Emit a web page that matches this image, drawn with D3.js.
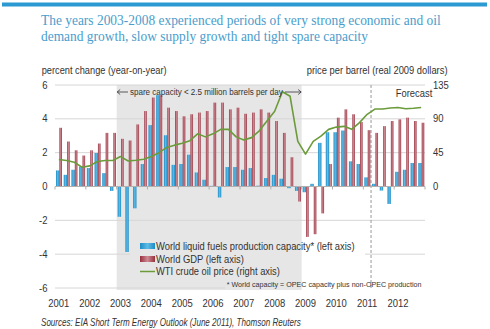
<!DOCTYPE html>
<html><head><meta charset="utf-8">
<script src="https://cdn.jsdelivr.net/npm/d3@7"></script>
<style>body{margin:0;background:#fff} svg{display:block}</style>
</head><body>
<svg id="c" width="490" height="329"></svg>
<script>
// ---------- data ----------
const years = [2001, 2002, 2003, 2004, 2005, 2006, 2007, 2008, 2009, 2010, 2011, 2012];
const quarters = ["Q1", "Q2", "Q3", "Q4"];
// World liquid fuels production capacity, % change y/y (left axis)
const capacity = [
  0.95, 0.69, 0.99, 1.19,
  1.09, 1.98, 0.79, -0.26,
  -1.79, -3.87, -1.29, 1.33,
  3.63, 5.40, 3.03, 1.28,
  1.33, 1.88, 0.83, 0.40,
  0.04, -0.65, 1.15, 1.15,
  0.99, 1.09, 0.05, 0.50,
  0.69, 0.46, -0.10, -0.26,
  -0.34, 0.16, 2.58, 3.21,
  3.21, 3.31, 1.49, 1.33,
  0.54, 0.16, -0.24, -1.03,
  0.87, 0.99, 1.39, 1.39
];
// World GDP, % change y/y (left axis)
const gdp = [
  3.47, 2.66, 2.14, 1.83,
  2.14, 2.54, 3.17, 3.17,
  2.82, 2.72, 3.67, 4.46,
  5.26, 5.40, 4.66, 4.46,
  4.15, 4.27, 4.37, 4.46,
  4.96, 4.96, 4.56, 4.66,
  4.30, 4.37, 4.56, 4.37,
  3.87, 3.17, 1.73, -0.89,
  -2.98, -2.82, -1.59, 1.33,
  4.07, 4.56, 4.27, 3.81,
  3.33, 3.17, 3.57, 3.87,
  3.97, 4.07, 3.87, 3.77
];
// WTI crude oil price, real 2009 $/bbl (right axis)
const wti = [
  36, 34.5, 32.3, 25.7,
  27.4, 33.2, 34.5, 34.5,
  39.8, 34, 35, 36.3,
  39.8, 45, 52, 55,
  57.5, 61, 70, 66,
  70, 76, 76, 66,
  62, 65, 74, 87,
  100, 126, 120, 60,
  43, 60, 67, 76,
  79, 80, 76, 85,
  96, 103, 103, 104.5,
  105, 103.5, 104, 105
];
const leftTicks = [-6, -4, -2, 0, 2, 4, 6];
const rightTicks = [0, 45, 90, 135];
const shadeYears = [2003, 2009];
const forecastStart = 2011.25;

const titleLines = [
  "The years 2003-2008 experienced periods of very strong economic and oil",
  "demand growth, slow supply growth and tight spare capacity"
];
const legendLabels = [
  "World liquid fuels production capacity* (left axis)",
  "World GDP (left axis)",
  "WTI crude oil price (right axis)"
];

// ---------- setup ----------
const SANS = "'Liberation Sans', Arial, Helvetica, sans-serif";
const SERIF = "'Liberation Serif', 'Times New Roman', serif";
const svg = d3.select("#c");
const defs = svg.append("defs");

function grad(id, edge, mid) {
  const g = defs.append("linearGradient").attr("id", id).attr("x1", "0%").attr("x2", "100%").attr("y1", "0%").attr("y2", "0%");
  g.append("stop").attr("offset", "0%").attr("stop-color", edge);
  g.append("stop").attr("offset", "50%").attr("stop-color", mid);
  g.append("stop").attr("offset", "100%").attr("stop-color", edge);
}
grad("gBlue", "#1d8cc6", "#5fbbe4");
grad("gRed", "#98303f", "#cc8a93");

function addText(parent, str, X, Y, o) {
  const t = parent.append("text").text(str)
    .attr("font-family", o.family || SANS)
    .attr("font-size", o.size)
    .attr("fill", o.fill || "#333")
    .attr("text-anchor", o.anchor || "start");
  if (o.style) t.attr("font-style", o.style);
  let s = o.sx || 1;
  if (o.width) s = o.width / t.node().getComputedTextLength();
  t.attr("transform", `translate(${X},${Y}) scale(${s},1)`);
  return s;
}

const data = d3.cross(years, quarters).map(([yr, q], i) => ({
  t: yr + quarters.indexOf(q) / 4, cap: capacity[i], gdp: gdp[i], wti: wti[i]
}));

const x = d3.scaleLinear().domain([2001, 2013]).range([55, 425]);
const y = d3.scaleLinear().domain([-6, 6]).range([288, 85]);
const y2 = d3.scaleLinear().domain([0, 135]).range([y(0), y(6)]);

// top bar
svg.append("rect").attr("x", 2).attr("y", 2.5).attr("width", 485).attr("height", 4).attr("fill", "#2b9ad2");

// title
const ts = addText(svg, titleLines[0], 41, 24.5, {family: SERIF, size: 14.5, fill: "#4a9dcb", width: 400});
addText(svg, titleLines[1], 41, 40.5, {family: SERIF, size: 14.5, fill: "#4a9dcb", sx: ts});

// shading
svg.append("rect").attr("x", x(shadeYears[0])).attr("y", y(6))
  .attr("width", x(shadeYears[1]) - x(shadeYears[0])).attr("height", y(-6) + 2 - y(6))
  .attr("fill", "#e6e6e6");

// gridlines
const grid = svg.append("g").attr("stroke", "#d6d6d6").attr("stroke-width", 1);
leftTicks.filter(v => v !== 0 && v > -4).forEach(v => {
  grid.append("line").attr("x1", x(2001)).attr("x2", x(2013)).attr("y1", y(v)).attr("y2", y(v));
});
grid.append("line").attr("x1", x(2001)).attr("x2", 130).attr("y1", y(-4)).attr("y2", y(-4));
grid.append("line").attr("x1", 365).attr("x2", x(2013)).attr("y1", y(-4)).attr("y2", y(-4));
grid.append("line").attr("x1", x(2001)).attr("x2", 225).attr("y1", y(-6)).attr("y2", y(-6));

// forecast dashed line
svg.append("line").attr("x1", x(forecastStart)).attr("x2", x(forecastStart))
  .attr("y1", y(6)).attr("y2", y(-6) + 2)
  .attr("stroke", "#999").attr("stroke-width", 1).attr("stroke-dasharray", "3,2");

// bars
svg.append("g").selectAll("rect").data(data).join("rect")
  .attr("x", d => x(d.t) + 1).attr("width", 3.4)
  .attr("y", d => y(Math.max(0, d.cap))).attr("height", d => Math.abs(y(d.cap) - y(0)))
  .attr("fill", "url(#gBlue)");
svg.append("g").selectAll("rect").data(data).join("rect")
  .attr("x", d => x(d.t) + 4.4).attr("width", 2.6)
  .attr("y", d => y(Math.max(0, d.gdp))).attr("height", d => Math.abs(y(d.gdp) - y(0)))
  .attr("fill", "url(#gRed)");

// zero axis + year ticks
svg.append("line").attr("x1", x(2001)).attr("x2", x(2013)).attr("y1", y(0)).attr("y2", y(0))
  .attr("stroke", "#b0b0b0").attr("stroke-width", 1);
svg.append("g").selectAll("line").data(years.concat([2013])).join("line")
  .attr("x1", d => x(d)).attr("x2", d => x(d)).attr("y1", y(0)).attr("y2", y(0) + 3)
  .attr("stroke", "#b0b0b0");

// WTI line
svg.append("path").datum(data)
  .attr("d", d3.line().x(d => x(d.t + 0.125)).y(d => y2(d.wti)))
  .attr("fill", "none").attr("stroke", "#6b9b3a").attr("stroke-width", 1.6).attr("stroke-linejoin", "round");

// tick labels
leftTicks.forEach(v => addText(svg, String(v), 47.5, y(v) + 3.6, {size: 10.5, anchor: "end", sx: 0.9}));
rightTicks.forEach(v => addText(svg, String(v), 433, y2(v) + 3.6, {size: 10.5, sx: 0.9}));
years.forEach(yr => addText(svg, String(yr), x(yr + 0.125), 306.5, {size: 10.5, anchor: "middle", sx: 0.9}));

// axis titles
addText(svg, "percent change (year-on-year)", 41.7, 74, {size: 10, width: 125});
addText(svg, "price per barrel (real 2009 dollars)", 306.7, 74, {size: 10, width: 141});
addText(svg, "Forecast", 395.7, 96.5, {size: 10.5, width: 36.6});

// spare capacity annotation
addText(svg, "spare capacity < 2.5 million barrels per day", 130, 94.5, {size: 9, width: 153});
const ann = svg.append("g").attr("stroke", "#333").attr("stroke-width", 0.8).attr("fill", "none");
const ay = 92;
ann.append("line").attr("x1", x(shadeYears[0]) + 0.5).attr("x2", 128).attr("y1", ay).attr("y2", ay);
ann.append("path").attr("d", `M${x(shadeYears[0]) + 3.5},${ay - 2.5} L${x(shadeYears[0]) + 0.5},${ay} L${x(shadeYears[0]) + 3.5},${ay + 2.5}`);
ann.append("line").attr("x1", 285).attr("x2", x(shadeYears[1]) - 0.5).attr("y1", ay).attr("y2", ay);
ann.append("path").attr("d", `M${x(shadeYears[1]) - 3.5},${ay - 2.5} L${x(shadeYears[1]) - 0.5},${ay} L${x(shadeYears[1]) - 3.5},${ay + 2.5}`);

// legend
const lg = svg.append("g");
const lb = [249.5, 262.5, 275];
lg.append("rect").attr("x", 140).attr("y", lb[0] - 6.5).attr("width", 15).attr("height", 6).attr("fill", "url(#gBlue)");
lg.append("rect").attr("x", 140).attr("y", lb[1] - 6.5).attr("width", 15).attr("height", 6).attr("fill", "url(#gRed)");
lg.append("line").attr("x1", 140).attr("x2", 155).attr("y1", lb[2] - 3.5).attr("y2", lb[2] - 3.5).attr("stroke", "#6b9b3a").attr("stroke-width", 1.5);
const lw = [199, 88, 124];
legendLabels.forEach((s, i) => addText(lg, s, 156, lb[i], {size: 10.5, width: lw[i]}));

// footnote & sources
addText(svg, "* World capacity = OPEC capacity plus non-OPEC production", 226.7, 287, {size: 7.5, width: 195});
addText(svg, "Sources: EIA Short Term Energy Outlook (June 2011), Thomson Reuters", 41, 326, {size: 10, width: 260, style: "italic"});
</script>
</body></html>
